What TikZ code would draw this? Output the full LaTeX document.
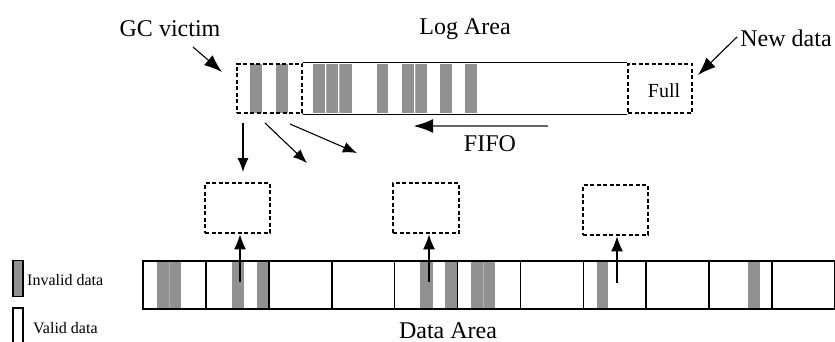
\documentclass[tikz,border=0pt]{standalone}
\usepackage{fontspec}
\setmainfont{Liberation Serif}
\usetikzlibrary{arrows.meta}
\definecolor{stripe}{RGB}{145,145,145}
\definecolor{seam}{RGB}{175,175,175}
\begin{document}
\begin{tikzpicture}[x=1pt,y=-1pt,
  dbox/.style={draw, line width=2.8pt, dash pattern=on 4pt off 2.5pt, inner sep=0pt},
  arr/.style={-{Latex[length=14pt,width=11pt]}, line width=1.1pt},
  lbl/.style={font=\fontsize{24}{28}\selectfont, anchor=base, inner sep=0pt},
  small/.style={font=\fontsize{16}{19}\selectfont, anchor=base west, inner sep=0pt},
  solidline/.style={line width=1.6pt}]
\useasboundingbox (0,0) rectangle (835,342);

% ---------- Log area ----------
\foreach \a/\b in {250/262,276/288,313/325,326/338,339/352,377/388,402/414,415/427,440/452,465/477}
  \fill[stripe] (\a,64) rectangle (\b,113);
\foreach \a in {326,339,415}
  \draw[seam, line width=0.6pt] (\a,64) -- (\a,113);
\node[dbox, minimum width=65pt, minimum height=49pt] (gc) at (269.5,88.5) {};
\node[dbox, minimum width=64pt, minimum height=49pt] (full) at (660,88.5) {};
\draw[solidline] (gc.north east) -- (full.north west);
\draw[solidline] (gc.south east) -- (full.south west);
\node[font=\fontsize{20}{24}\selectfont, anchor=base, inner sep=0pt] (fulll) at (664,98) {Full};

% ---------- labels ----------
\node[lbl] (gcl) at (170,37) {GC victim};
\node[lbl] (logl) at (465,35) {Log Area};
\node[lbl] (newl) at (786,47) {New data};
\node[lbl] (fifol) at (490,152) {FIFO};
\node[lbl] (datal) at (448,338) {Data Area};

% arrows to log area
\coordinate (gcs) at (193,47);
\coordinate (gct) at (222,72);
\draw[arr, -{Latex[length=18pt,width=13pt]}] (gcs) -- (gct);
\coordinate (nds) at (737,37);
\coordinate (ndt) at (698,75);
\draw[arr, -{Latex[length=18pt,width=13pt]}] (nds) -- (ndt);
\coordinate (fifos) at (548,126);
\coordinate (fifot) at (413,126);
\draw[draw=black!60, line width=2.8pt, -{Latex[length=20pt,width=14pt,color=black,fill=black]}] (fifos) -- (fifot);

% ---------- intermediate boxes ----------
\node[dbox, minimum width=65pt, minimum height=50pt] (b1) at (237.5,208) {};
\node[dbox, minimum width=66pt, minimum height=50pt] (b2) at (426,208) {};
\node[dbox, minimum width=65pt, minimum height=50pt] (b3) at (615.5,210) {};

% GC victim outgoing arrows
\coordinate (g1) at (243,123);
\coordinate (g1t) at (243,172);
\coordinate (g2) at (265,123);
\coordinate (g2t) at (307,163);
\coordinate (g3) at (290,124);
\coordinate (g3t) at (357,153);
\draw[arr] (g1) -- (g1t);
\draw[arr] (g2) -- (g2t);
\draw[arr] (g3) -- (g3t);

% ---------- Data area ----------
\foreach \a/\b in {157/169,169/181,232/244,257/268,420/433,445/458,471/483,483/495,597/608,748/760}
  \fill[stripe] (\a,261) rectangle (\b,309);
\foreach \a in {169,483}
  \draw[seam, line width=0.6pt] (\a,261) -- (\a,309);
\node[draw, solidline, minimum width=692pt, minimum height=48pt, inner sep=0pt] (data) at (489,285) {};
\foreach \i in {1,...,10}
  \draw[solidline] ({143+\i*62.9},261) -- ({143+\i*62.9},309);

% up arrows
\coordinate (u1) at (240,282);
\coordinate (u2) at (429,282);
\coordinate (u3) at (617,283);
\draw[arr, -{Latex[length=15pt,width=12pt]}] (u1) -- (u1 |- b1.south);
\draw[arr, -{Latex[length=15pt,width=12pt]}] (u2) -- (u2 |- b2.south);
\draw[arr, -{Latex[length=15pt,width=12pt]}] (u3) -- (u3 |- b3.south);

% ---------- legend ----------
\node[draw, fill=stripe, line width=1.2pt, minimum width=10pt, minimum height=36pt, inner sep=0pt] (invbox) at (18,278.5) {};
\node[draw, fill=white, line width=1.2pt, minimum width=10pt, minimum height=36pt, inner sep=0pt] (valbox) at (18,326) {};
\node[small] (invl) at (27,285) {Invalid data};
\node[small] (vall) at (33,333) {Valid data};
\end{tikzpicture}
\end{document}
